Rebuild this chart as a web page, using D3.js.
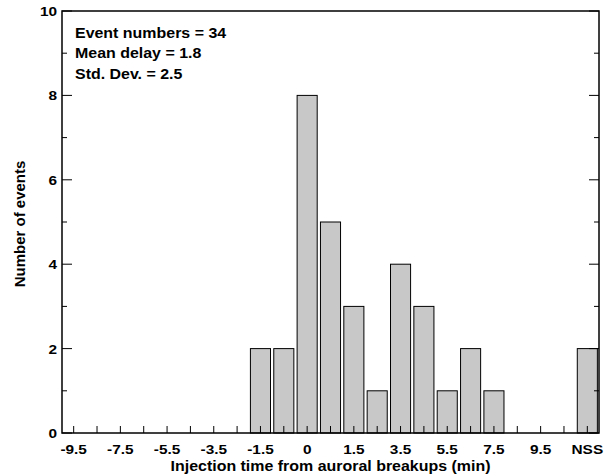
<!DOCTYPE html>
<html><head><meta charset="utf-8">
<script src="https://cdn.jsdelivr.net/npm/d3@7/dist/d3.min.js"></script>
<style>body{margin:0;background:#fff}text{font-family:"Liberation Sans",Arial,sans-serif;font-weight:bold;fill:#000}</style>
</head><body><svg id="c" width="610" height="476"></svg>
<script>
const bins = ["-9.5","-8.5","-7.5","-6.5","-5.5","-4.5","-3.5","-2.5","-1.5","-0.5","0","0.5","1.5","2.5","3.5","4.5","5.5","6.5","7.5","8.5","9.5","10.5","NSS"];
const counts = [0,0,0,0,0,0,0,0,2,2,8,5,3,1,4,3,1,2,1,0,0,0,2];
const xTickLabels = ["-9.5","-7.5","-5.5","-3.5","-1.5","0","1.5","3.5","5.5","7.5","9.5","NSS"];
const yMajor = [0,2,4,6,8,10];
const yMinor = [1,3,5,7,9];
const stats = ["Event numbers = 34","Mean delay = 1.8","Std. Dev. = 2.5"];

const L=62,R=599,T=11,B=433, SX=1.14;
const svg=d3.select("#c");
const x=d3.scaleBand().domain(bins).range([L,R]).paddingInner(0.14).paddingOuter(0.07);
const y=d3.scaleLinear().domain([0,10]).range([B,T]);

function htext(g,xx,yy,str,size,anchor){
  return g.append("text").attr("transform",`translate(${xx},${yy}) scale(${SX},1)`)
    .attr("text-anchor",anchor||"start").attr("font-size",size).text(str);
}

// bars
svg.append("g").selectAll("rect").data(bins.map((b,i)=>({b,v:counts[i]})).filter(d=>d.v>0)).join("rect")
  .attr("x",d=>x(d.b)).attr("width",x.bandwidth()).attr("y",d=>y(d.v)).attr("height",d=>y(0)-y(d.v))
  .attr("fill","#c8c8c8").attr("stroke","#000").attr("stroke-width",1);

// x ticks (bin centers)
const cx=b=>x(b)+x.bandwidth()/2;
svg.append("g").selectAll("line").data(bins).join("line")
  .attr("x1",cx).attr("x2",cx).attr("y1",B).attr("y2",B-7).attr("stroke","#000").attr("stroke-width",1);
// x tick labels
const xl=svg.append("g");
bins.forEach((b,i)=>{ if(i%2===0){ htext(xl,cx(b),454,xTickLabels[i/2],13.5,"middle"); }});

// y ticks both sides
const yt=svg.append("g").attr("stroke","#000").attr("stroke-width",1);
yMajor.forEach(v=>{yt.append("line").attr("x1",L).attr("x2",L+10).attr("y1",y(v)).attr("y2",y(v));
  yt.append("line").attr("x1",R).attr("x2",R-10).attr("y1",y(v)).attr("y2",y(v));});
yMinor.forEach(v=>{yt.append("line").attr("x1",L).attr("x2",L+5).attr("y1",y(v)).attr("y2",y(v));
  yt.append("line").attr("x1",R).attr("x2",R-5).attr("y1",y(v)).attr("y2",y(v));});
const yl=svg.append("g");
yMajor.forEach(v=>htext(yl,57,y(v)+5,String(v),13.5,"end"));

// frame
svg.append("rect").attr("x",L).attr("y",T).attr("width",R-L).attr("height",B-T)
  .attr("fill","none").attr("stroke","#000").attr("stroke-width",1.5);

// titles
htext(svg,(L+R)/2,471,"Injection time from auroral breakups (min)",14,"middle");
svg.append("text").attr("transform",`translate(25,${(T+B)/2+2}) rotate(-90)`).attr("text-anchor","middle")
  .attr("font-size",15).text("Number of events");

// stats
stats.forEach((s,i)=>htext(svg,75,37.5+i*20.5,s,14,"start"));
</script></body></html>
